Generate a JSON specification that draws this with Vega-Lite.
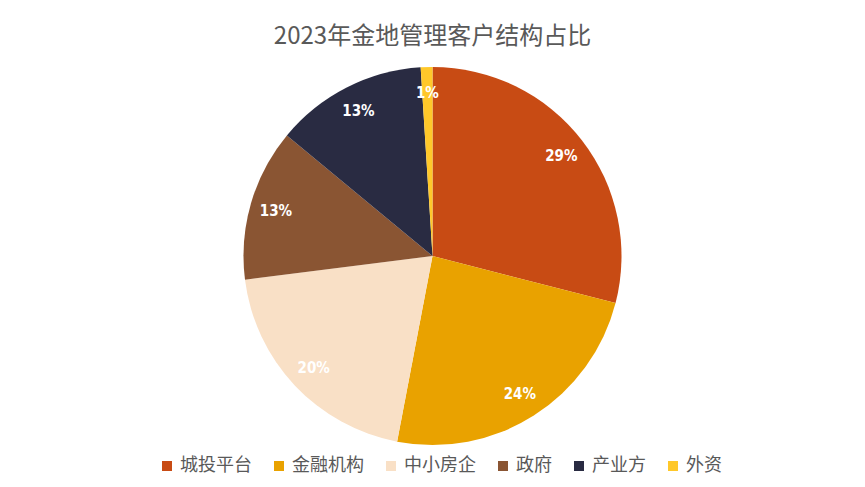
{
  "$schema": "https://vega.github.io/schema/vega-lite/v6.json",
  "width": 865,
  "height": 388,
  "autosize": {"type": "none"},
  "padding": {"top": 62, "bottom": 37, "left": 0, "right": 0},
  "background": "white",
  "title": {
    "text": "2023年金地管理客户结构占比",
    "font": "Noto Sans CJK SC",
    "fontSize": 24,
    "fontWeight": "normal",
    "color": "#595959",
    "anchor": "middle",
    "offset": 13,
    "limit": 0
  },
  "data": {
    "values": [
      {"类型": "城投平台", "占比": 0.29, "序号": 1},
      {"类型": "金融机构", "占比": 0.24, "序号": 2},
      {"类型": "中小房企", "占比": 0.20, "序号": 3},
      {"类型": "政府", "占比": 0.13, "序号": 4},
      {"类型": "产业方", "占比": 0.13, "序号": 5},
      {"类型": "外资", "占比": 0.01, "序号": 6}
    ]
  },
  "encoding": {
    "theta": {"field": "占比", "type": "quantitative", "stack": true},
    "order": {"field": "序号", "type": "quantitative"}
  },
  "layer": [
    {
      "mark": {"type": "arc", "outerRadius": 189},
      "encoding": {
        "color": {
          "field": "类型",
          "type": "nominal",
          "scale": {
            "domain": ["城投平台", "金融机构", "中小房企", "政府", "产业方", "外资"],
            "range": ["#C84B14", "#E9A200", "#F9E0C6", "#8A5533", "#292B42", "#FFC82A"]
          },
          "legend": {
            "orient": "none",
            "legendX": 158,
            "legendY": 395,
            "direction": "horizontal",
            "title": null,
            "symbolType": "square",
            "symbolSize": 100,
            "symbolStrokeWidth": 0,
            "labelFont": "Noto Sans CJK SC",
            "labelFontSize": 18,
            "labelColor": "#595959",
            "columnPadding": 18
          }
        }
      }
    },
    {
      "mark": {
        "type": "text",
        "radius": 163,
        "font": "DejaVu Sans Condensed",
        "fontSize": 15,
        "fontWeight": "bold",
        "color": "white"
      },
      "encoding": {
        "text": {"field": "占比", "type": "quantitative", "format": ".0%"},
        "detail": {"field": "类型", "type": "nominal"}
      }
    }
  ],
  "config": {"view": {"stroke": null}}
}
